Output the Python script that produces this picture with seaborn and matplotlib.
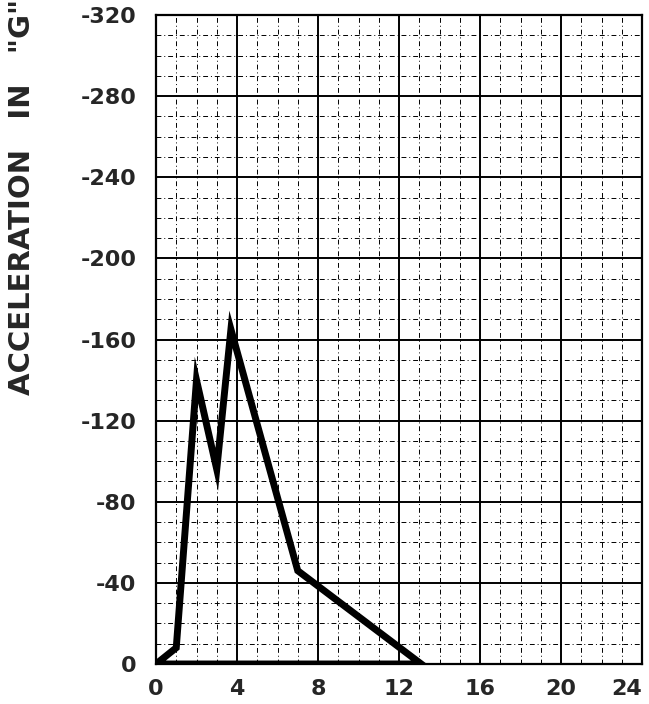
import matplotlib
matplotlib.use("Agg")
import matplotlib.pyplot as plt
import seaborn as sns
import pandas as pd
from matplotlib.ticker import MultipleLocator

# Data (closed pulse shape)
time_ms = [0, 1, 2, 3, 3.7, 7, 13.1, 0]
accel_g = [0, -8, -140, -96, -165, -46, 0, 0]

x_ticks = [0, 4, 8, 12, 16, 20, 24]
y_ticks = [0, -40, -80, -120, -160, -200, -240, -280, -320]

sns.set_style("white")
plt.rcParams['font.family'] = ['DejaVu Sans']

fig = plt.figure(figsize=(6.49, 7.04), dpi=100)
ax = fig.add_axes([156/649, 1-664/704, (642-156)/649, (664-15)/704])

df = pd.DataFrame({"t": time_ms, "a": accel_g})
sns.lineplot(data=df, x="t", y="a", sort=False, estimator=None, ax=ax,
             color="black", linewidth=5, solid_joinstyle="miter", zorder=5)

ax.set_xlim(0, 24)
ax.set_ylim(0, -320)
ax.set_xticks(x_ticks)
ax.set_yticks(y_ticks)
ax.set_xticklabels([str(v) for v in x_ticks], fontsize=16, fontweight="bold")
ax.set_yticklabels([str(v) for v in y_ticks], fontsize=16, fontweight="bold")
ax.get_xticklabels()[-1].set_ha("right")
ax.xaxis.set_minor_locator(MultipleLocator(1))
ax.yaxis.set_minor_locator(MultipleLocator(10))
ax.grid(which="major", color="black", linewidth=1.4)
ax.grid(which="minor", color="black", linewidth=0.7, linestyle=(0, (5, 3, 1, 3)))
ax.tick_params(which="both", length=0)
ax.tick_params(axis="y", pad=14)
ax.tick_params(axis="x", pad=11)
for s in ax.spines.values():
    s.set_color("black")
    s.set_linewidth(1.6)
ax.set_xlabel("")
ax.set_ylabel("")

fig.text(22/649, 1-395/704, 'ACCELERATION   IN   "G"', rotation=90,
         ha="center", va="bottom", fontsize=21, fontweight="bold")

fig.savefig("out.png", dpi=100, facecolor="white")
